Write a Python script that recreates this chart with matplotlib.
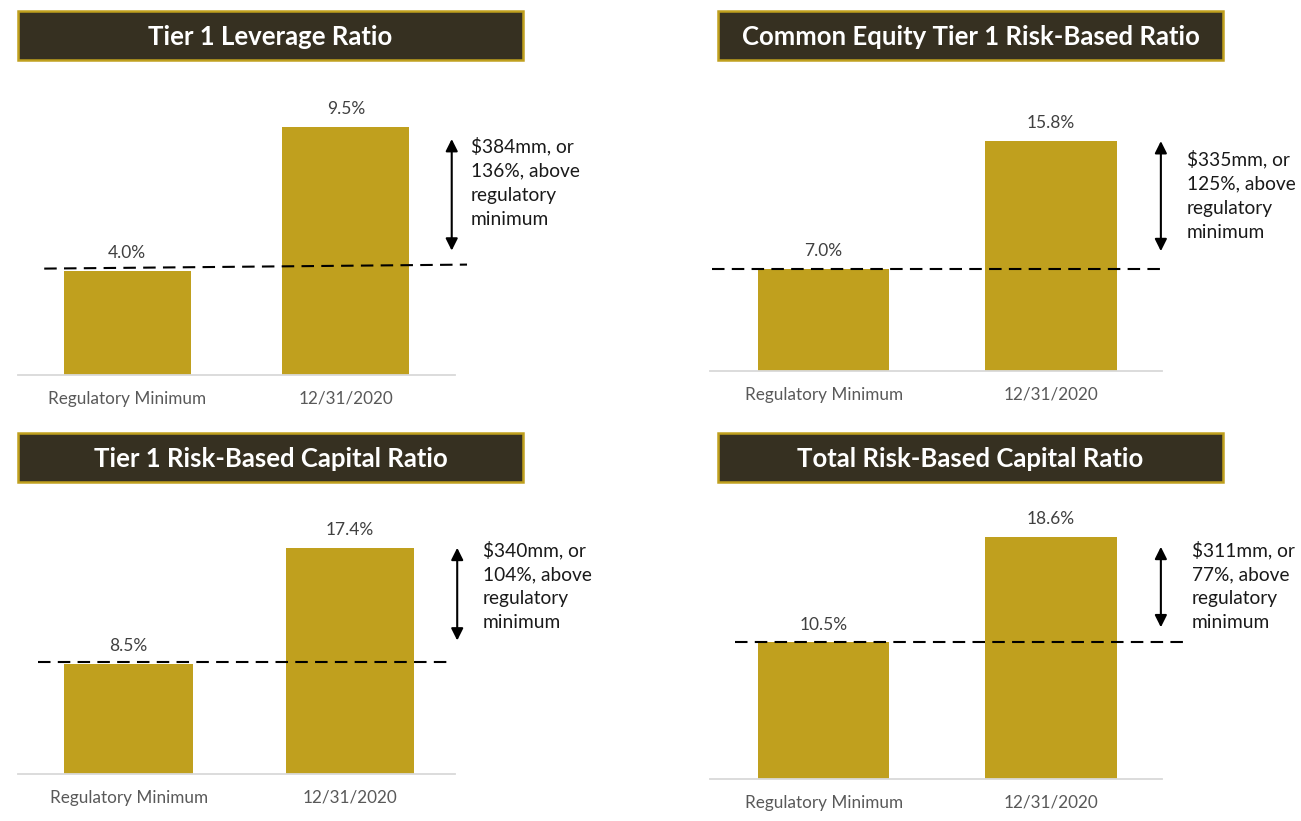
import matplotlib
matplotlib.use("Agg")
import matplotlib.pyplot as plt
from matplotlib.patches import Rectangle

plt.rcParams['font.family'] = ['Lato', 'DejaVu Sans']

W, H = 1301, 821

# data
titles = ["Tier 1 Leverage Ratio",
          "Common Equity Tier 1 Risk-Based Ratio",
          "Tier 1 Risk-Based Capital Ratio",
          "Total Risk-Based Capital Ratio"]
categories = ["Regulatory Minimum", "12/31/2020"]
reg_min = [4.0, 7.0, 8.5, 10.5]
actual = [9.5, 15.8, 17.4, 18.6]
cushion = ["$384mm, or\n136%, above\nregulatory\nminimum",
           "$335mm, or\n125%, above\nregulatory\nminimum",
           "$340mm, or\n104%, above\nregulatory\nminimum",
           "$311mm, or\n77%, above\nregulatory\nminimum"]

gold = "#C0A01E"
dark = "#363021"

# layout (pixels): title box corner, axes span, baseline, px per percentage point
layout = [
    dict(box=(18, 11), left=18, right=455, base=375, top=80, scale=26.1, xmax=1.5,
         dash=(-0.38, 1.555), dash_off=(2, 6), arrow_pad=(12, 20), note_x=1.573, note_dy=10),
    dict(box=(718, 11), left=710, right=1162, base=371, top=80, scale=14.55, xmax=1.49,
         dash=(-0.49, 1.485), dash_off=(0, 0), arrow_pad=(0, 18), note_x=1.60, note_dy=9),
    dict(box=(18, 433), left=18, right=455, base=774, top=500, scale=13.0, xmax=1.475,
         dash=(-0.41, 1.46), dash_off=(2, 2), arrow_pad=(0, 23), note_x=1.60, note_dy=-7),
    dict(box=(718, 433), left=710, right=1162, base=779, top=500, scale=13.02, xmax=1.49,
         dash=(-0.39, 1.595), dash_off=(0, 0), arrow_pad=(10, 15), note_x=1.62, note_dy=4),
]

fig = plt.figure(figsize=(W / 100, H / 100), dpi=100)

for k, L in enumerate(layout):
    # title banner
    bx, by = L['box']
    fig.patches.append(Rectangle((bx / W, 1 - (by + 49) / H), 505 / W, 49 / H,
                                 transform=fig.transFigure, facecolor=dark,
                                 edgecolor=gold, linewidth=1.8))
    fig.text((bx + 252.5) / W, 1 - (by + 26) / H, titles[k], color='white',
             fontsize=18.5, fontweight='bold', ha='center', va='center')

    ax = fig.add_axes([L['left'] / W, 1 - L['base'] / H,
                       (L['right'] - L['left']) / W, (L['base'] - L['top']) / H])
    s = L['scale']
    vals = [reg_min[k], actual[k]]
    ax.bar([0, 1], vals, width=0.58, color=gold, zorder=2)
    ax.set_xlim(-0.5, L['xmax'])
    ax.set_ylim(0, (L['base'] - L['top']) / s)

    for sp in ['top', 'left', 'right']:
        ax.spines[sp].set_visible(False)
    ax.spines['bottom'].set_color('#D9D9D9')
    ax.spines['bottom'].set_linewidth(1.3)
    ax.set_yticks([])
    ax.set_xticks([0, 1])
    ax.set_xticklabels(categories, fontsize=12.3, color='#595959')
    ax.tick_params(axis='x', length=0, pad=11.5)

    for i, v in enumerate(vals):
        ax.annotate(f"{v:.1f}%", (i, v), xytext=(0, 7), textcoords='offset points',
                    ha='center', va='bottom', fontsize=12.5, color='#404040')

    # regulatory minimum dashed line
    d0, d1 = L['dash_off']
    ax.plot(L['dash'], [reg_min[k] + d0 / s, reg_min[k] + d1 / s], color='black',
            lw=1.5, ls=(0, (6, 3.5)), clip_on=False, zorder=3)

    # double-headed arrow between the two levels
    pt, pb = L['arrow_pad']
    ax.annotate('', xy=(1.485, actual[k] - pt / s), xytext=(1.485, reg_min[k] + pb / s),
                arrowprops=dict(arrowstyle='<|-|>', color='black', lw=1.5,
                                mutation_scale=18, shrinkA=0, shrinkB=0),
                annotation_clip=False)

    ax.annotate(cushion[k], (L['note_x'], actual[k]), xytext=(0, -L['note_dy'] * 0.72),
                textcoords='offset points', ha='left', va='top', fontsize=13.8,
                color='#1A1A1A', linespacing=1.5, annotation_clip=False,
                parse_math=False)

fig.savefig("out.png", dpi=100, facecolor='white')
